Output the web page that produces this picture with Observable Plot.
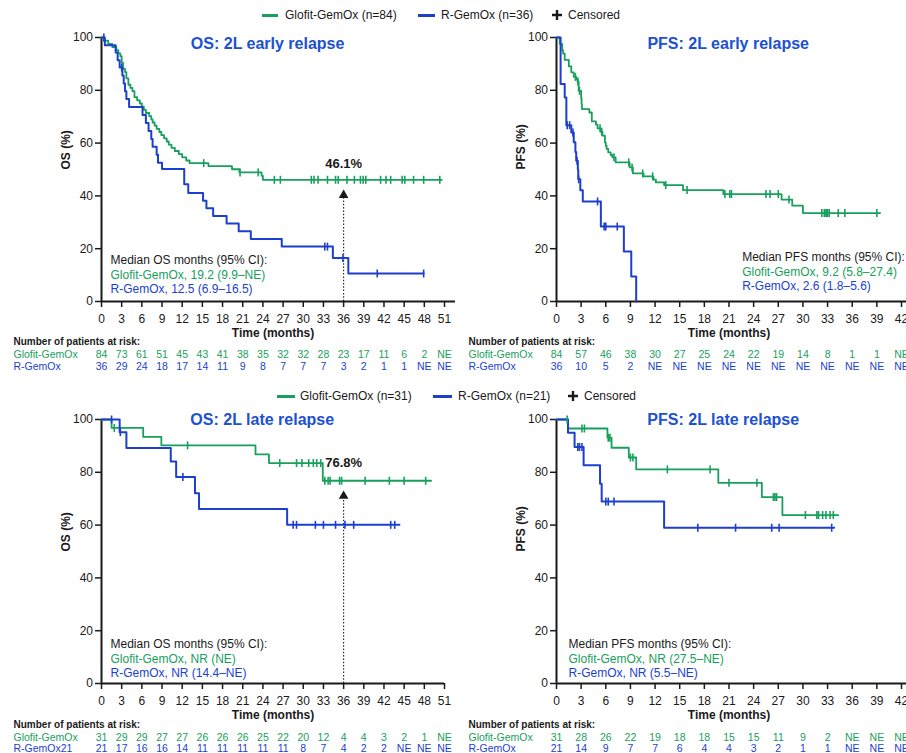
<!DOCTYPE html>
<html><head><meta charset="utf-8">
<script src="https://cdn.jsdelivr.net/npm/d3@7"></script>
<script src="https://cdn.jsdelivr.net/npm/@observablehq/plot@0.6"></script>
<style>
body{margin:0;background:#fff;font-family:"Liberation Sans",Arial,sans-serif;}
#page{position:relative;width:906px;height:753px;overflow:hidden;background:#fff;}
.box{position:absolute;}
.lbl{position:absolute;transform:translateY(-50%);white-space:nowrap;line-height:1;font-size:12px;color:#1a1a1a;}
.sw{position:absolute;height:3px;}
</style></head><body><div id="page"></div>
<script>
const GREEN = "#17a05d";
const BLUE = "#1c3fd0";
const TITLE_BLUE = "#2050d4";
const INK = "#1a1a1a";
const FONT = '"Liberation Sans", Arial, sans-serif';

// ---- ticks ----
const yTicks = [0, 20, 40, 60, 80, 100];
const monthsOS = [0,3,6,9,12,15,18,21,24,27,30,33,36,39,42,45,48,51];
const monthsPFS = [0,3,6,9,12,15,18,21,24,27,30,33,36,39,42];
const seriesNames = ["Glofit-GemOx", "R-GemOx"];

// ---- OS: 2L early relapse ----
const osEarlyGlofit = [[0,100],[0.4,98.8],[1.0,97.6],[1.6,96.4],[2.2,95.2],[2.5,94.0],[2.8,92.9],[3.0,90.5],[3.2,88.1],[3.5,86.9],[3.7,84.5],[4.0,82.1],[4.3,80.9],[4.6,79.7],[4.9,77.4],[5.3,76.2],[5.7,75.0],[6.0,73.8],[6.3,72.6],[6.6,71.4],[7.1,70.2],[7.4,69.0],[7.6,67.8],[7.9,66.6],[8.2,65.4],[8.6,64.2],[8.9,63.0],[9.3,61.8],[9.7,60.6],[10.0,59.4],[10.4,58.2],[10.9,57.0],[11.5,55.8],[12.0,54.6],[12.6,53.4],[13.1,52.4],[15.9,51.3],[19.4,50.1],[20.5,48.9],[23.8,47.6],[24.0,46.1],[50.6,46.1]];
const osEarlyGlofitCensor = [15.2,20.6,23.3,25.7,26.6,31.2,31.6,32.2,33.6,34.8,35.2,36.5,37.6,38.5,38.9,39.3,41.5,42.3,43.0,44.7,45.1,46.4,47.9,50.3];
const osEarlyR = [[0,100],[0.5,97.1],[2.1,94.3],[2.4,91.4],[2.7,88.6],[3.1,85.6],[3.3,82.6],[3.5,79.6],[3.7,76.7],[4.1,73.7],[6.1,70.6],[6.6,67.6],[7.0,64.6],[7.4,61.6],[7.6,58.6],[8.2,55.6],[8.4,52.6],[9.0,50.2],[12.3,44.4],[12.9,41.1],[15.1,38.2],[15.6,35.3],[16.6,32.4],[18.6,29.5],[20.4,26.6],[22.2,23.7],[26.8,20.8],[34.4,16.5],[36.7,10.6],[47.9,10.6]];
const osEarlyRCensor = [0.35,3.0,33.2,33.6,35.9,41.0,47.9];
const medianOsEarly = ["Median OS months (95% CI):","Glofit-GemOx, 19.2 (9.9–NE)","R-GemOx, 12.5 (6.9–16.5)"];
const riskOsEarlyGlofit = [84,73,61,51,45,43,41,38,35,32,32,28,23,17,11,6,2,"NE"];
const riskOsEarlyR = [36,29,24,18,17,14,11,9,8,7,7,7,3,2,1,1,"NE","NE"];

// ---- PFS: 2L early relapse ----
const pfsEarlyGlofit = [[0,100],[0.4,97.6],[0.7,95.2],[0.8,93.9],[1.0,91.5],[1.5,89.1],[1.8,86.8],[2.1,85.1],[2.4,84.2],[2.55,83.3],[2.7,79.8],[3.0,77.0],[3.05,74.8],[3.1,72.9],[4.0,71.6],[4.3,68.2],[4.8,67.0],[5.0,65.6],[5.4,64.3],[5.6,62.8],[5.9,60.3],[6.0,59.0],[6.1,57.8],[6.3,56.5],[6.6,55.5],[6.8,54.6],[7.2,52.7],[8.9,50.8],[9.3,48.5],[10.6,47.4],[11.8,46.2],[12.1,45.1],[13.1,44.1],[15.4,42.2],[20.3,40.7],[27.4,38.6],[28.7,36.3],[30.0,33.5],[39.4,33.5]];
const pfsEarlyGlofitCensor = [2.3,2.6,2.8,5.3,5.5,7.0,8.8,9.2,10.5,11.7,13.3,15.9,20.5,21.1,21.3,25.5,26.0,27.0,28.3,32.3,32.6,32.8,32.9,33.0,33.2,34.3,35.1,39.0];
const pfsEarlyR = [[0,100],[0.5,82.4],[1.0,77.3],[1.2,66.8],[1.8,64.0],[2.1,60.3],[2.3,56.6],[2.4,53.3],[2.6,49.8],[2.65,46.3],[2.9,42.1],[3.2,37.9],[5.4,28.4],[8.2,18.9],[9.1,9.5],[9.7,0]];
const pfsEarlyRCensor = [1.3,1.6,2.0,2.5,2.7,5.0,5.8,6.0,7.4];
const medianPfsEarly = ["Median PFS months (95% CI):","Glofit-GemOx, 9.2 (5.8–27.4)","R-GemOx, 2.6 (1.8–5.6)"];
const riskPfsEarlyGlofit = [84,57,46,38,30,27,25,24,22,19,14,8,1,1,"NE"];
const riskPfsEarlyR = [36,10,5,2,"NE","NE","NE","NE","NE","NE","NE","NE","NE","NE","NE"];

// ---- OS: 2L late relapse ----
const osLateGlofit = [[0,100],[1.5,96.8],[6.2,93.4],[8.9,90.2],[22.9,86.8],[24.9,83.5],[32.9,76.8],[49.0,76.8]];
const osLateGlofitCensor = [1.9,12.8,26.5,29.0,29.8,30.8,31.5,32.0,32.6,33.2,33.7,34.0,35.4,35.7,39.2,42.8,45.0,48.2];
const osLateR = [[0,100],[2.7,95.2],[3.7,89.2],[10.3,84.1],[11.1,78.2],[13.9,72.1],[14.5,66.1],[27.6,60.1],[44.3,60.1]];
const osLateRCensor = [1.5,2.8,12.1,28.5,29.0,31.8,33.0,34.8,36.2,37.5,43.0,43.6];
const medianOsLate = ["Median OS months (95% CI):","Glofit-GemOx, NR (NE)","R-GemOx, NR (14.4–NE)"];
const riskOsLateGlofit = [31,29,29,27,27,26,26,26,25,22,20,12,4,4,3,2,1,"NE"];
const riskOsLateR = [21,17,16,16,14,11,11,11,11,11,8,7,4,2,2,"NE","NE","NE"];

// ---- PFS: 2L late relapse ----
const pfsLateGlofit = [[0,100],[1.4,96.6],[6.2,93.1],[6.7,89.3],[8.8,85.6],[9.7,81.1],[19.7,76.0],[25.0,70.6],[27.5,63.8],[34.3,63.8]];
const pfsLateGlofitCensor = [1.3,3.1,3.4,6.3,6.5,9.0,9.3,13.5,18.7,21.0,24.4,26.4,26.6,26.8,30.3,31.7,31.9,32.4,32.8,33.3,33.7];
const pfsLateR = [[0,100],[1.4,95.0],[2.2,89.6],[3.3,82.7],[5.3,75.7],[5.5,68.9],[13.1,59.0],[33.8,59.0]];
const pfsLateRCensor = [2.6,2.8,3.1,6.0,6.3,7.0,17.2,21.8,26.2,27.1,33.5];
const medianPfsLate = ["Median PFS months (95% CI):","Glofit-GemOx, NR (27.5–NE)","R-GemOx, NR (5.5–NE)"];
const riskPfsLateGlofit = [31,28,26,22,19,18,18,15,15,11,9,2,"NE","NE","NE"];
const riskPfsLateR = [21,14,9,7,7,6,4,4,3,2,1,1,"NE","NE","NE"];

// ---- helpers ----
function survAt(curve, t) { let v = curve[0][1]; for (const [x, y] of curve) { if (x <= t) v = y; else break; } return v; }
const censorTick = { draw(ctx, size) { const r = Math.sqrt(size / Math.PI); ctx.moveTo(0, -r); ctx.lineTo(0, r); } };
const baseStyle = {fontFamily: FONT, fontSize: "12px", color: INK, background: "transparent", overflow: "visible"};

const panels = [
  {left: 0, top: 20, mL: 101, mR: 9, ext: 11, xMax: 51, xTicks: monthsOS,
   yLabel: "OS (%)", title: "OS: 2L early relapse", titlePos: {x: 24.7, y: 97.7},
   g: osEarlyGlofit, r: osEarlyR, gc: osEarlyGlofitCensor, rc: osEarlyRCensor,
   median: medianOsEarly, medianPos: {x: 1.34, y: 15.5},
   arrow: {x: 36, tip: 40.3, base: 39.2, label: "46.1%", labelY: 52.3},
   riskTop: 335, riskH: 40, riskHeaderY: 6, riskRows: [18.3, 30.7], riskG: riskOsEarlyGlofit, riskR: riskOsEarlyR, rowLabels: ["Glofit-GemOx", "R-GemOx"]},
  {left: 453, top: 20, mL: 103, mR: 5, ext: 5, xMax: 42, xTicks: monthsPFS,
   yLabel: "PFS (%)", title: "PFS: 2L early relapse", titlePos: {x: 20.9, y: 97.7},
   g: pfsEarlyGlofit, r: pfsEarlyR, gc: pfsEarlyGlofitCensor, rc: pfsEarlyRCensor,
   median: medianPfsEarly, medianPos: {x: 22.6, y: 16.7}, arrow: null,
   riskTop: 335, riskH: 40, riskHeaderY: 6, riskRows: [18.3, 30.7], riskG: riskPfsEarlyGlofit, riskR: riskPfsEarlyR, rowLabels: ["Glofit-GemOx", "R-GemOx"]},
  {left: 0, top: 402, mL: 101, mR: 9, ext: 0, xMax: 51, xTicks: monthsOS,
   yLabel: "OS (%)", title: "OS: 2L late relapse", titlePos: {x: 23.9, y: 100},
   g: osLateGlofit, r: osLateR, gc: osLateGlofitCensor, rc: osLateRCensor,
   median: medianOsLate, medianPos: {x: 1.34, y: 14.8},
   arrow: {x: 36, tip: 71.0, base: 69.6, label: "76.8%", labelY: 83.7},
   riskTop: 716, riskH: 37, riskHeaderY: 8.3, riskRows: [20.7, 31.7], riskG: riskOsLateGlofit, riskR: riskOsLateR, rowLabels: ["Glofit-GemOx", "R-GemOx21"]},
  {left: 453, top: 402, mL: 103, mR: 5, ext: 5, xMax: 42, xTicks: monthsPFS,
   yLabel: "PFS (%)", title: "PFS: 2L late relapse", titlePos: {x: 20.3, y: 100},
   g: pfsLateGlofit, r: pfsLateR, gc: pfsLateGlofitCensor, rc: pfsLateRCensor,
   median: medianPfsLate, medianPos: {x: 1.46, y: 14.8}, arrow: null,
   riskTop: 716, riskH: 37, riskHeaderY: 8.3, riskRows: [20.7, 31.7], riskG: riskPfsLateGlofit, riskR: riskPfsLateR, rowLabels: ["Glofit-GemOx", "R-GemOx"]}
];

const page = document.getElementById("page");
function place(node, left, top) { const d = document.createElement("div"); d.className = "box"; d.style.left = left + "px"; d.style.top = top + "px"; d.appendChild(node); page.appendChild(d); }

for (const p of panels) {
  const mT = 17, frameH = 264, mB = 38;
  const marks = [
    Plot.ruleX([0], {stroke: INK, strokeWidth: 2}),
    Plot.ruleY([0], {stroke: INK, strokeWidth: 2, insetRight: -p.ext}),
    Plot.axisX({ticks: p.xTicks, tickSize: 6, tickPadding: 7, strokeWidth: 1.5, label: null, fontSize: 12, tickFormat: d => d}),
    Plot.axisY({ticks: yTicks, tickSize: 6, tickPadding: 2.5, strokeWidth: 1.5, label: null, fontSize: 12}),
    Plot.text([p.yLabel], {frameAnchor: "left", dx: -35, rotate: -90, fontWeight: "bold", fontSize: 12, fill: INK}),
    Plot.text(["Time (months)"], {frameAnchor: "bottom", dy: 31.5, lineAnchor: "middle", fontWeight: "bold", fontSize: 12, fill: INK}),
    Plot.text([{...p.titlePos, t: p.title}], {x: "x", y: "y", text: "t", fontWeight: "bold", fontSize: 16, fill: TITLE_BLUE}),
    ...p.median.map((s, i) => Plot.text([{...p.medianPos, t: s}], {x: "x", y: "y", text: "t", dy: i * 14.5, textAnchor: "start", lineAnchor: "middle", fontSize: 12, fill: [INK, GREEN, BLUE][i]}))
  ];
  if (p.arrow) {
    const a = p.arrow;
    marks.push(
      Plot.ruleX([{x: a.x, y1: 0, y2: a.base}], {x: "x", y1: "y1", y2: "y2", stroke: INK, strokeWidth: 1.1, strokeDasharray: "1.5,1.8"}),
      Plot.dot([{x: a.x, y: a.tip}], {x: "x", y: "y", symbol: "triangle", r: 3.6, fill: INK, stroke: "none"}),
      Plot.text([{x: a.x, y: a.labelY, t: a.label}], {x: "x", y: "y", text: "t", fontWeight: "bold", fontSize: 13, fill: INK})
    );
  }
  marks.push(
    Plot.line(p.g, {x: d => d[0], y: d => d[1], curve: "step-after", stroke: GREEN, strokeWidth: 1.8}),
    Plot.line(p.r, {x: d => d[0], y: d => d[1], curve: "step-after", stroke: BLUE, strokeWidth: 2}),
    Plot.dot(p.gc, {x: d => d, y: d => survAt(p.g, d), symbol: censorTick, r: 4, stroke: GREEN, strokeWidth: 1.6, fill: "none"}),
    Plot.dot(p.rc, {x: d => d, y: d => survAt(p.r, d), symbol: censorTick, r: 4, stroke: BLUE, strokeWidth: 1.6, fill: "none"})
  );
  const chart = Plot.plot({
    width: 453, height: mT + frameH + mB, marginTop: mT, marginBottom: mB, marginLeft: p.mL, marginRight: p.mR,
    style: baseStyle,
    x: {domain: [0, p.xMax]}, y: {domain: [0, 100]},
    marks
  });
  place(chart, p.left, p.top);

  // risk table
  const gRows = p.xTicks.map((t, i) => ({t, s: seriesNames[0], v: p.riskG[i]}));
  const rRows = p.xTicks.map((t, i) => ({t, s: seriesNames[1], v: p.riskR[i]}));
  const labDx = 13 - p.mL + (p.left ? 2 : 0);
  const risk = Plot.plot({
    width: 453, height: p.riskH, marginTop: 0, marginBottom: 0, marginLeft: p.mL, marginRight: p.mR,
    style: {...baseStyle, fontSize: "10.5px"},
    x: {domain: [0, p.xMax], axis: null},
    y: {type: "point", domain: seriesNames, range: p.riskRows, padding: 0, axis: null},
    marks: [
      Plot.text(["Number of patients at risk:"], {frameAnchor: "top-left", dx: labDx, dy: p.riskHeaderY, textAnchor: "start", lineAnchor: "middle", fontWeight: "bold", fontSize: 10, fill: INK}),
      Plot.text([{s: seriesNames[0], lab: p.rowLabels[0]}], {y: "s", text: "lab", frameAnchor: "left", dx: labDx, textAnchor: "start", lineAnchor: "middle", fontSize: 10.5, fill: GREEN}),
      Plot.text([{s: seriesNames[1], lab: p.rowLabels[1]}], {y: "s", text: "lab", frameAnchor: "left", dx: labDx, textAnchor: "start", lineAnchor: "middle", fontSize: 10.5, fill: BLUE}),
      Plot.text(gRows, {x: "t", y: "s", text: "v", fontSize: 10.5, lineAnchor: "middle", fill: GREEN}),
      Plot.text(rRows, {x: "t", y: "s", text: "v", fontSize: 10.5, lineAnchor: "middle", fill: BLUE})
    ]
  });
  place(risk, p.left, p.riskTop);
}

// legends
const legends = [
  {y: 15, items: [{type: "line", color: GREEN, x: 262, w: 16}, {type: "text", x: 285, t: "Glofit-GemOx (n=84)"},
                  {type: "line", color: BLUE, x: 418, w: 17}, {type: "text", x: 441, t: "R-GemOx (n=36)"},
                  {type: "plus", x: 556.5}, {type: "text", x: 568, t: "Censored"}]},
  {y: 396, items: [{type: "line", color: GREEN, x: 277, w: 18}, {type: "text", x: 300, t: "Glofit-GemOx (n=31)"},
                   {type: "line", color: BLUE, x: 433, w: 19}, {type: "text", x: 458, t: "R-GemOx (n=21)"},
                   {type: "plus", x: 572.5}, {type: "text", x: 584, t: "Censored"}]}
];
for (const L of legends) {
  for (const it of L.items) {
    if (it.type === "line") {
      const d = document.createElement("div"); d.className = "sw";
      d.style.left = it.x + "px"; d.style.width = it.w + "px"; d.style.top = (L.y - 1.5) + "px"; d.style.background = it.color;
      page.appendChild(d);
    } else if (it.type === "text") {
      const d = document.createElement("div"); d.className = "lbl";
      d.style.left = it.x + "px"; d.style.top = L.y + "px"; d.textContent = it.t;
      page.appendChild(d);
    } else {
      const ns = "http://www.w3.org/2000/svg";
      const s = document.createElementNS(ns, "svg");
      s.setAttribute("width", 10); s.setAttribute("height", 10);
      s.style.position = "absolute"; s.style.left = (it.x - 5) + "px"; s.style.top = (L.y - 5) + "px";
      const path = document.createElementNS(ns, "path");
      path.setAttribute("d", "M5,0V10M0,5H10"); path.setAttribute("stroke", INK); path.setAttribute("stroke-width", "2.4");
      s.appendChild(path); page.appendChild(s);
    }
  }
}
</script></body></html>
